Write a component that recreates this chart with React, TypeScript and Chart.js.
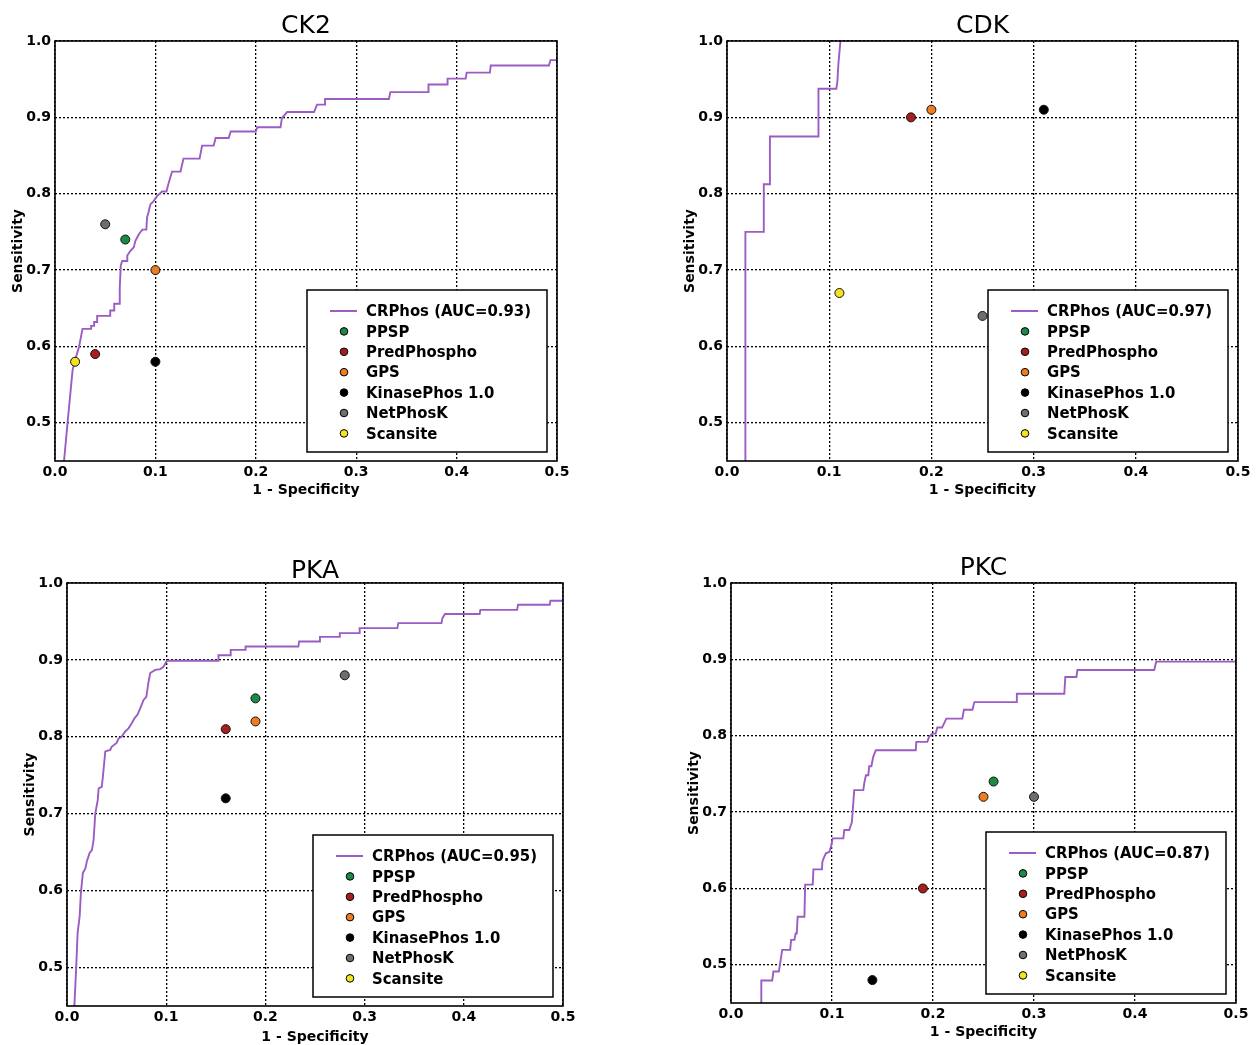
import React, { useEffect, useRef } from 'react';
import { Chart, registerables } from 'chart.js';

Chart.register(...registerables);

// ---------- data ----------
const xTicks = [0.0, 0.1, 0.2, 0.3, 0.4, 0.5];
const yTicks = [0.5, 0.6, 0.7, 0.8, 0.9, 1.0];

const toolNames = ['PPSP', 'PredPhospho', 'GPS', 'KinasePhos 1.0', 'NetPhosK', 'Scansite'];
const toolColors = ['#1c8a46', '#a81e1e', '#ee7d22', '#000000', '#6e6e6e', '#f2e51e'];
const lineColor = '#9b5cc4';

// CK2
const ck2Fpr = [0.009, 0.0125, 0.0175, 0.02, 0.024, 0.0274, 0.036, 0.036, 0.039, 0.039, 0.042, 0.042, 0.055, 0.055, 0.059, 0.059, 0.064, 0.0645, 0.0655, 0.067, 0.072, 0.072, 0.075, 0.0785, 0.08, 0.0835, 0.087, 0.091, 0.0917, 0.0934, 0.095, 0.098, 0.1017, 0.1066, 0.111, 0.113, 0.1166, 0.125, 0.128, 0.144, 0.1465, 0.158, 0.16, 0.173, 0.175, 0.2, 0.2015, 0.2246, 0.226, 0.2312, 0.258, 0.261, 0.269, 0.269, 0.3326, 0.334, 0.372, 0.372, 0.3907, 0.391, 0.409, 0.41, 0.4332, 0.434, 0.492, 0.4935, 0.5];
const ck2Tpr = [0.45, 0.5, 0.569, 0.582, 0.6, 0.623, 0.623, 0.627, 0.627, 0.632, 0.632, 0.64, 0.64, 0.647, 0.647, 0.656, 0.656, 0.677, 0.706, 0.712, 0.712, 0.719, 0.725, 0.73, 0.738, 0.747, 0.753, 0.753, 0.769, 0.777, 0.786, 0.79, 0.797, 0.803, 0.803, 0.813, 0.829, 0.829, 0.846, 0.846, 0.863, 0.863, 0.873, 0.873, 0.8815, 0.8815, 0.887, 0.887, 0.899, 0.907, 0.907, 0.9167, 0.9167, 0.924, 0.924, 0.933, 0.933, 0.943, 0.943, 0.9507, 0.9507, 0.9586, 0.9586, 0.968, 0.968, 0.975, 0.975];
const ck2ToolFpr = [0.07, 0.04, 0.1, 0.1, 0.05, 0.02];
const ck2ToolTpr = [0.74, 0.59, 0.7, 0.58, 0.76, 0.58];

// CDK
const cdkFpr = [0.018, 0.018, 0.036, 0.036, 0.042, 0.042, 0.0895, 0.0895, 0.107, 0.108, 0.109, 0.111];
const cdkTpr = [0.45, 0.75, 0.75, 0.8125, 0.8125, 0.875, 0.875, 0.9375, 0.9375, 0.947, 0.97, 1.0];
const cdkToolFpr = [null, 0.18, 0.2, 0.31, 0.25, 0.11];
const cdkToolTpr = [null, 0.9, 0.91, 0.91, 0.64, 0.67];

// PKA
const pkaFpr = [0.0074, 0.0084, 0.0094, 0.0107, 0.0128, 0.014, 0.016, 0.0185, 0.02, 0.0228, 0.0252, 0.0268, 0.0285, 0.031, 0.0319, 0.035, 0.036, 0.0386, 0.0436, 0.045, 0.05, 0.052, 0.055, 0.0587, 0.062, 0.0654, 0.068, 0.0711, 0.0738, 0.0772, 0.08, 0.082, 0.0839, 0.089, 0.094, 0.0973, 0.1007, 0.1527, 0.1527, 0.1644, 0.165, 0.1795, 0.18, 0.2332, 0.234, 0.2544, 0.255, 0.2745, 0.275, 0.2946, 0.295, 0.333, 0.334, 0.3775, 0.3785, 0.381, 0.416, 0.4167, 0.4537, 0.4547, 0.4866, 0.4873, 0.5];
const pkaTpr = [0.45, 0.476, 0.504, 0.545, 0.567, 0.597, 0.623, 0.629, 0.638, 0.649, 0.653, 0.666, 0.7, 0.718, 0.733, 0.735, 0.746, 0.781, 0.783, 0.787, 0.792, 0.798, 0.8, 0.807, 0.811, 0.818, 0.824, 0.829, 0.837, 0.848, 0.852, 0.87, 0.883, 0.887, 0.888, 0.891, 0.899, 0.899, 0.906, 0.906, 0.913, 0.913, 0.9174, 0.9174, 0.924, 0.924, 0.93, 0.93, 0.9348, 0.9348, 0.9413, 0.9413, 0.9478, 0.9478, 0.9543, 0.9596, 0.9596, 0.965, 0.965, 0.9717, 0.9717, 0.977, 0.977];
const pkaToolFpr = [0.19, 0.16, 0.19, 0.16, 0.28, null];
const pkaToolTpr = [0.85, 0.81, 0.82, 0.72, 0.88, null];

// PKC
const pkcFpr = [0.03, 0.03, 0.0408, 0.042, 0.0474, 0.0507, 0.0586, 0.0595, 0.0628, 0.064, 0.0651, 0.066, 0.0727, 0.0734, 0.0809, 0.0816, 0.09, 0.0905, 0.0924, 0.094, 0.0974, 0.099, 0.1007, 0.1112, 0.1122, 0.117, 0.1197, 0.122, 0.131, 0.132, 0.1336, 0.136, 0.1368, 0.139, 0.1408, 0.1434, 0.1829, 0.1835, 0.1944, 0.1961, 0.1993, 0.2026, 0.2043, 0.209, 0.2132, 0.229, 0.2306, 0.239, 0.241, 0.2826, 0.283, 0.33, 0.331, 0.342, 0.343, 0.419, 0.421, 0.5];
const pkcTpr = [0.45, 0.4795, 0.4795, 0.4913, 0.4913, 0.5196, 0.5196, 0.5327, 0.5327, 0.541, 0.541, 0.563, 0.563, 0.605, 0.605, 0.625, 0.625, 0.635, 0.6416, 0.646, 0.648, 0.655, 0.6656, 0.6656, 0.6765, 0.6765, 0.687, 0.7288, 0.7288, 0.7383, 0.7483, 0.7483, 0.76, 0.76, 0.7723, 0.781, 0.781, 0.792, 0.792, 0.7985, 0.8028, 0.8028, 0.8107, 0.8107, 0.8224, 0.8224, 0.834, 0.834, 0.844, 0.844, 0.855, 0.855, 0.877, 0.877, 0.886, 0.886, 0.897, 0.897];
const pkcToolFpr = [0.26, 0.19, 0.25, 0.14, 0.3, null];
const pkcToolTpr = [0.74, 0.6, 0.72, 0.48, 0.72, null];

// ---------- panels ----------
type Panel = {
  title: string;
  auc: string;
  fpr: number[];
  tpr: number[];
  toolFpr: (number | null)[];
  toolTpr: (number | null)[];
  box: { left: number; top: number; width: number; height: number };
  pad: { left: number; right: number; top: number; bottom: number };
  xAxisH: number;
  titleGap: number;
};

const panels: Panel[] = [
  {
    title: 'CK2', auc: '0.93', fpr: ck2Fpr, tpr: ck2Tpr, toolFpr: ck2ToolFpr, toolTpr: ck2ToolTpr,
    box: { left: 0, top: 0, width: 600, height: 505 },
    pad: { left: 5, right: 43, top: 41, bottom: 5 }, xAxisH: 39, titleGap: 8,
  },
  {
    title: 'CDK', auc: '0.97', fpr: cdkFpr, tpr: cdkTpr, toolFpr: cdkToolFpr, toolTpr: cdkToolTpr,
    box: { left: 630, top: 0, width: 627, height: 505 },
    pad: { left: 47, right: 19, top: 41, bottom: 5 }, xAxisH: 39, titleGap: 8,
  },
  {
    title: 'PKA', auc: '0.95', fpr: pkaFpr, tpr: pkaTpr, toolFpr: pkaToolFpr, toolTpr: pkaToolTpr,
    box: { left: 0, top: 530, width: 600, height: 530 },
    pad: { left: 17, right: 37, top: 53, bottom: 13 }, xAxisH: 41, titleGap: 5,
  },
  {
    title: 'PKC', auc: '0.87', fpr: pkcFpr, tpr: pkcTpr, toolFpr: pkcToolFpr, toolTpr: pkcToolTpr,
    box: { left: 630, top: 530, width: 627, height: 530 },
    pad: { left: 51, right: 21, top: 53, bottom: 18 }, xAxisH: 39, titleGap: 8,
  },
];

const FONT = '"DejaVu Sans", "Liberation Sans", Arial, sans-serif';

function makeDeco(p: Panel) {
  return {
    id: 'panelDeco' + p.title,
    afterDatasetsDraw(chart: any) {
      const { ctx, chartArea: ca } = chart;
      ctx.save();
      // frame
      ctx.strokeStyle = '#000';
      ctx.lineWidth = 1.6;
      ctx.setLineDash([]);
      ctx.strokeRect(ca.left, ca.top, ca.right - ca.left, ca.bottom - ca.top);

      // legend
      const lw = 240;
      const lh = 162;
      const lx = ca.right - 10 - lw;
      const ly = ca.bottom - 9 - lh;
      ctx.fillStyle = '#fff';
      ctx.fillRect(lx, ly, lw, lh);
      ctx.strokeStyle = '#000';
      ctx.lineWidth = 1.5;
      ctx.strokeRect(lx, ly, lw, lh);

      const labels = [`CRPhos (AUC=${p.auc})`, ...toolNames];
      ctx.font = `bold 16px ${FONT}`;
      ctx.textBaseline = 'middle';
      ctx.textAlign = 'left';
      const target = 165;
      const measured = ctx.measureText(labels[0]).width;
      const sx = measured > 0 ? target / measured : 1;
      labels.forEach((lab, i) => {
        const cy = ly + 21 + i * 20.4;
        if (i === 0) {
          ctx.strokeStyle = lineColor;
          ctx.lineWidth = 2;
          ctx.beginPath();
          ctx.moveTo(lx + 23, cy);
          ctx.lineTo(lx + 50, cy);
          ctx.stroke();
        } else {
          ctx.beginPath();
          ctx.arc(lx + 37, cy, 3.8, 0, Math.PI * 2);
          ctx.fillStyle = toolColors[i - 1];
          ctx.fill();
          ctx.strokeStyle = '#000';
          ctx.lineWidth = 1;
          ctx.stroke();
        }
        ctx.save();
        ctx.translate(lx + 59, cy + 1);
        ctx.scale(sx, 1);
        ctx.fillStyle = '#000';
        ctx.fillText(lab, 0, 0);
        ctx.restore();
      });

      // title
      ctx.font = `25px ${FONT}`;
      ctx.fillStyle = '#000';
      ctx.textAlign = 'center';
      ctx.textBaseline = 'alphabetic';
      ctx.fillText(p.title, (ca.left + ca.right) / 2, ca.top - p.titleGap);
      ctx.restore();
    },
  };
}

function PanelChart({ p }: { p: Panel }) {
  const ref = useRef<HTMLCanvasElement>(null);
  useEffect(() => {
    const canvas = ref.current;
    if (!canvas) return;
    const lineData = p.fpr.map((x, i) => ({ x, y: p.tpr[i] }));
    const toolSets = toolNames.map((name, i) => {
      const fx = p.toolFpr[i];
      const fy = p.toolTpr[i];
      return {
        type: 'scatter' as const,
        label: name,
        data: fx == null || fy == null ? [] : [{ x: fx, y: fy }],
        backgroundColor: toolColors[i],
        borderColor: '#111',
        borderWidth: 1,
        pointRadius: 4.5,
        showLine: false,
        order: 1,
      };
    });
    const tickFont = { family: FONT, size: 14, weight: 'bold' as const };
    const titleFont = { family: FONT, size: 14, weight: 'bold' as const };
    const chart = new Chart(canvas, {
      type: 'scatter',
      data: {
        datasets: [
          {
            type: 'scatter',
            label: `CRPhos (AUC=${p.auc})`,
            data: lineData,
            showLine: true,
            borderColor: lineColor,
            backgroundColor: lineColor,
            borderWidth: 1.9,
            pointRadius: 0,
            pointHoverRadius: 0,
            tension: 0,
            order: 2,
          } as any,
          ...toolSets,
        ],
      },
      options: {
        animation: false,
        responsive: false,
        maintainAspectRatio: false,
        events: [],
        layout: { padding: p.pad },
        plugins: {
          legend: { display: false },
          title: { display: false },
          tooltip: { enabled: false },
        },
        scales: {
          x: {
            type: 'linear',
            min: 0,
            max: 0.5,
            afterBuildTicks: (s: any) => {
              s.ticks = xTicks.map((v) => ({ value: v }));
            },
            afterFit: (s: any) => {
              s.height = p.xAxisH;
            },
            ticks: {
              callback: (v: any) => Number(v).toFixed(1),
              font: tickFont,
              color: '#000',
              padding: 3,
              autoSkip: false,
              maxRotation: 0,
            },
            grid: { color: '#000', lineWidth: 1.3, drawTicks: false },
            border: { display: false, dash: [2, 2] },
            title: {
              display: true,
              text: '1 - Specificity',
              font: titleFont,
              color: '#000',
              padding: { top: 0, bottom: 1 },
            },
          },
          y: {
            type: 'linear',
            min: 0.45,
            max: 1.0,
            afterBuildTicks: (s: any) => {
              s.ticks = yTicks.map((v) => ({ value: v }));
            },
            afterFit: (s: any) => {
              s.width = 50;
            },
            ticks: {
              callback: (v: any) => Number(v).toFixed(1),
              font: tickFont,
              color: '#000',
              padding: 4,
              autoSkip: false,
            },
            grid: { color: '#000', lineWidth: 1.3, drawTicks: false },
            border: { display: false, dash: [2, 2] },
            title: {
              display: true,
              text: 'Sensitivity',
              font: titleFont,
              color: '#000',
              padding: { top: 5, bottom: 0 },
            },
          },
        },
      } as any,
      plugins: [makeDeco(p)],
    });
    return () => chart.destroy();
  }, [p]);

  return (
    <canvas
      ref={ref}
      width={p.box.width}
      height={p.box.height}
      style={{
        position: 'absolute',
        left: p.box.left,
        top: p.box.top,
        width: p.box.width,
        height: p.box.height,
      }}
    />
  );
}

export default function App() {
  return (
    <div
      style={{
        position: 'absolute',
        left: 0,
        top: 0,
        width: 1257,
        height: 1045,
        overflow: 'hidden',
        background: '#fff',
      }}
    >
      {panels.map((p) => (
        <PanelChart key={p.title} p={p} />
      ))}
    </div>
  );
}
